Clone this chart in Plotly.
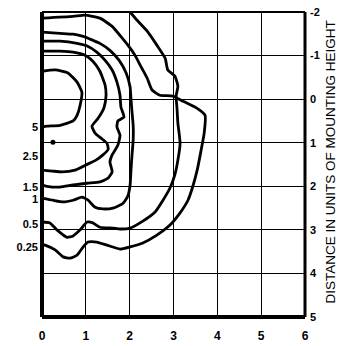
import plotly.graph_objects as go

# ---- data (units of mounting height) ----
x_ticks = [0, 1, 2, 3, 4, 5, 6]
y_ticks = [-2, -1, 0, 1, 2, 3, 4, 5]
contour_labels = ["5", "2.5", "1.5", "1", "0.5", "0.25"]
contour_label_y = [0.64, 1.31, 2.02, 2.29, 2.87, 3.39]

c025_x = [0.0, 0.71, 0.98, 1.32, 1.60, 1.83, 1.96, 2.12, 2.24, 2.40, 2.51, 2.69, 2.99, 3.22, 3.54, 3.72,
          3.70, 3.63, 3.54, 3.45, 3.33, 3.15, 2.92, 2.62, 2.30, 2.01, 1.78, 1.48, 1.25, 1.05, 0.94, 0.80,
          0.64, 0.48, 0.30, 0.07, 0.0]
c025_y = [-1.86, -1.90, -1.93, -1.86, -1.67, -1.40, -1.24, -1.01, -0.78, -0.48, -0.21, -0.09, -0.07, 0.05,
          0.21, 0.37, 0.78, 1.17, 1.63, 1.97, 2.32, 2.61, 2.89, 3.12, 3.30, 3.39, 3.44, 3.35, 3.28, 3.28,
          3.39, 3.58, 3.65, 3.62, 3.46, 3.35, 3.33]

c05_x = [2.01, 2.17, 2.40, 2.62, 2.81, 2.87, 3.03, 3.10, 3.06, 3.08, 3.10, 3.15, 3.10, 3.03, 2.92, 2.76,
         2.58, 2.30, 2.01, 1.78, 1.62, 1.32, 1.16, 1.03, 0.87, 0.71, 0.57, 0.34, 0.18, 0.0]
c05_y = [-2.0, -1.81, -1.56, -1.24, -0.94, -0.67, -0.53, -0.30, -0.07, 0.21, 0.55, 1.01, 1.40, 1.74, 2.04,
         2.32, 2.59, 2.80, 2.96, 2.98, 2.96, 2.94, 2.84, 2.82, 3.00, 3.14, 3.17, 3.00, 2.84, 2.82]

c1_x = [0.0, 0.41, 0.71, 0.94, 1.16, 1.32, 1.55, 1.76, 1.92, 2.01, 2.03, 2.05, 2.08, 2.08, 2.05, 2.03,
        2.01, 1.96, 1.85, 1.62, 1.39, 1.21, 1.05, 0.91, 0.71, 0.48, 0.25, 0.0]
c1_y = [-1.54, -1.51, -1.49, -1.44, -1.35, -1.28, -1.12, -0.89, -0.60, -0.28, 0.0, 0.25, 0.60, 0.94, 1.33,
        1.63, 1.97, 2.22, 2.39, 2.50, 2.52, 2.48, 2.32, 2.25, 2.32, 2.36, 2.32, 2.27]

c15_x = [0.0, 0.41, 0.80, 1.03, 1.25, 1.44, 1.60, 1.71, 1.78, 1.80, 1.87, 1.73, 1.71, 1.78, 1.73, 1.60,
         1.55, 1.60, 1.51, 1.32, 1.03, 0.71, 0.41, 0.11, 0.0]
c15_y = [-1.33, -1.33, -1.28, -1.22, -1.08, -0.89, -0.67, -0.39, -0.09, 0.18, 0.41, 0.50, 0.64, 0.83, 1.06,
         1.28, 1.44, 1.67, 1.81, 1.90, 1.93, 1.97, 2.02, 2.00, 1.97]

c25_x = [0.0, 0.41, 0.71, 0.98, 1.16, 1.32, 1.44, 1.46, 1.41, 1.28, 1.14, 1.21, 1.34, 1.48, 1.51, 1.39,
         1.23, 1.00, 0.75, 0.46, 0.23, 0.0]
c25_y = [-1.10, -1.10, -1.08, -1.01, -0.87, -0.64, -0.32, -0.07, 0.21, 0.44, 0.62, 0.78, 0.89, 1.01, 1.15,
         1.28, 1.40, 1.51, 1.63, 1.67, 1.65, 1.63]

c5_x = [0.0, 0.30, 0.59, 0.80, 0.91, 0.87, 0.80, 0.71, 0.41, 0.11, 0.0]
c5_y = [-0.64, -0.67, -0.60, -0.39, -0.16, 0.14, 0.37, 0.50, 0.60, 0.62, 0.64]

dot_x = [0.25]
dot_y = [0.99]

curves = [(c025_x, c025_y), (c05_x, c05_y), (c1_x, c1_y), (c15_x, c15_y), (c25_x, c25_y), (c5_x, c5_y)]

fig = go.Figure()
for (cx, cy), name in zip(curves, ["0.25", "0.5", "1", "1.5", "2.5", "5"]):
    fig.add_trace(go.Scatter(x=cx, y=cy, mode="lines", name=name,
                             line=dict(color="black", width=2.8, shape="spline", smoothing=0.5),
                             hoverinfo="skip", showlegend=False))

fig.add_trace(go.Scatter(x=dot_x, y=dot_y, mode="markers", yaxis="y2",
                         marker=dict(color="black", size=5), showlegend=False, hoverinfo="skip"))

font_bold = dict(family="Liberation Sans, Arial, sans-serif", size=12, color="black", weight="bold")

fig.update_layout(
    width=341, height=346,
    margin=dict(l=42, r=36, t=12, b=29, autoexpand=False),
    paper_bgcolor="white", plot_bgcolor="white",
    xaxis=dict(range=[0, 6], tickvals=x_ticks, ticktext=[str(v) for v in x_ticks],
               showgrid=True, gridcolor="black", gridwidth=1.4, zeroline=False, showline=False,
               ticks="", ticklabelstandoff=10, tickfont=dict(font_bold, size=12), automargin=False),
    yaxis=dict(range=[5, -2], tickvals=y_ticks, ticktext=[str(v) for v in y_ticks], side="right",
               showgrid=True, gridcolor="black", gridwidth=1.4, zeroline=False, showline=False,
               ticks="", ticklabelstandoff=4, tickfont=dict(font_bold, size=11), automargin=False),
    yaxis2=dict(range=[5, -2], overlaying="y", side="left", tickvals=contour_label_y,
                ticktext=contour_labels, showgrid=False, zeroline=False, showline=False,
                ticks="", ticklabelstandoff=3, tickfont=dict(font_bold, size=11), automargin=False),
    shapes=[
        dict(type="line", xref="paper", yref="paper", x0=0, x1=0, y0=0, y1=1, line=dict(color="black", width=4)),
        dict(type="line", xref="paper", yref="paper", x0=0, x1=1, y0=0, y1=0, line=dict(color="black", width=4)),
        dict(type="line", xref="paper", yref="paper", x0=1, x1=1, y0=0, y1=1, line=dict(color="black", width=3)),
        dict(type="line", xref="paper", yref="paper", x0=0, x1=1, y0=1, y1=1, line=dict(color="black", width=2)),
    ],
    annotations=[dict(text="DISTANCE IN UNITS OF MOUNTING HEIGHT", xref="paper", yref="paper",
                      x=1.0, y=0.508, xanchor="right", yanchor="middle", xshift=35, textangle=-90,
                      showarrow=False,
                      font=dict(family="Liberation Sans, Arial, sans-serif", size=13.5, color="black"))],
)

# remove the page's default body margin so the 341x346 figure fills the window exactly
fig.write_html("out.html", config={"displayModeBar": False},
               post_script="document.body.style.margin='0px';")
